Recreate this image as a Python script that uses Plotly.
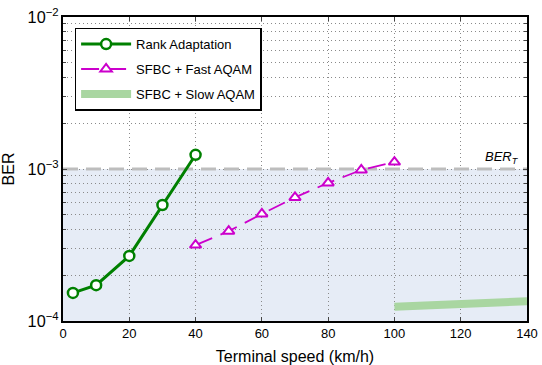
import math
import plotly.graph_objects as go

# Data
rank_x = [3, 10, 20, 30, 40]
rank_y = [1.53e-4, 1.72e-4, 2.68e-4, 5.8e-4, 1.24e-3]
fast_x = [40, 50, 60, 70, 80, 90, 100]
fast_y = [3.16e-4, 3.9e-4, 5.06e-4, 6.5e-4, 8.1e-4, 9.85e-4, 1.11e-3]
slow_x = [100, 140]
slow_y = [1.24e-4, 1.35e-4]
ber_target = 1e-3
x_range = [0, 140]
y_range_log = [-4, -2]

fig = go.Figure()

# shaded region below target (drawn beneath gridlines)
frac = (math.log10(ber_target) - y_range_log[0]) / (y_range_log[1] - y_range_log[0])
fig.add_shape(type="rect", xref="x domain", yref="y domain", x0=0, x1=1,
              y0=0, y1=frac, fillcolor="#e6ecf6", line=dict(width=0), layer="below")

fig.add_trace(go.Scatter(x=x_range, y=[ber_target, ber_target], mode="lines",
                         line=dict(color="#bdbdbd", width=3, dash="15px,8px"),
                         showlegend=False, hoverinfo="skip"))

fig.add_trace(go.Scatter(x=rank_x, y=rank_y, mode="lines+markers", name="Rank Adaptation",
                         legendgroup="a",
                         line=dict(color="#008000", width=3),
                         marker=dict(symbol="circle", size=10, color="white",
                                     line=dict(color="#008000", width=2.5))))
fig.add_trace(go.Scatter(x=fast_x, y=fast_y, mode="lines+markers", name="SFBC + Fast AQAM",
                         legendgroup="b",
                         line=dict(color="#cc00cc", width=1.8, dash="18px,9px"),
                         marker=dict(symbol="triangle-up", size=10, color="white",
                                     line=dict(color="#cc00cc", width=2))))
fig.add_trace(go.Scatter(x=slow_x, y=slow_y, mode="lines", name="SFBC + Slow AQAM",
                         legendgroup="c",
                         line=dict(color="#a9d6a1", width=8)))

fig.add_annotation(x=140, y=math.log10(ber_target), xref="x", yref="y",
                   text="<i>BER<sub>T</sub></i>", showarrow=False,
                   xanchor="right", yanchor="bottom", xshift=-6, yshift=1,
                   font=dict(size=13, color="black"))

fig.update_layout(
    width=542, height=365,
    margin=dict(l=63, r=15, t=17, b=44, autoexpand=False),
    paper_bgcolor="white", plot_bgcolor="white",
    font=dict(family="Liberation Sans, Arial", size=13, color="black"),
    legend=dict(x=0.025, y=0.965, xanchor="left", yanchor="top",
                bgcolor="white", bordercolor="black", borderwidth=1.5,
                font=dict(size=13), itemwidth=50, tracegroupgap=5,
                traceorder="grouped"),
    showlegend=True,
)

grid_dash = "1px,3px"
fig.update_xaxes(range=x_range, dtick=20, ticks="inside", ticklen=4,
                 showline=True, linecolor="black", linewidth=1.5, mirror="ticks",
                 showgrid=True, gridcolor="#8a8a8a", griddash=grid_dash, gridwidth=1,
                 zeroline=False, automargin=False,
                 title=dict(text="Terminal speed (km/h)", standoff=12),
                 tickfont=dict(size=13))
fig.update_yaxes(type="log", range=y_range_log, dtick=1, exponentformat="power",
                 ticks="inside", ticklen=4,
                 showline=True, linecolor="black", linewidth=1.5, mirror="ticks",
                 showgrid=True, gridcolor="#8a8a8a", griddash=grid_dash, gridwidth=1,
                 minor=dict(ticks="inside", ticklen=3, showgrid=True, gridcolor="#8a8a8a",
                            griddash=grid_dash, dtick="D1"),
                 zeroline=False, automargin=False,
                 title=dict(text="BER", standoff=14),
                 tickfont=dict(size=13))

fig.write_html("out.html")
